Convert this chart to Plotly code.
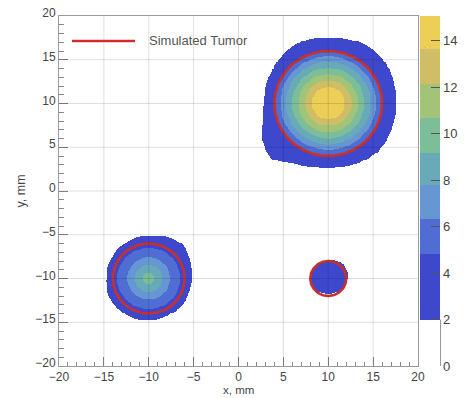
import numpy as np
import plotly.graph_objects as go

# ---------------- data ----------------
# tick values
x_ticks = [-20, -15, -10, -5, 0, 5, 10, 15, 20]
y_ticks = [-20, -15, -10, -5, 0, 5, 10, 15, 20]
cbar_ticks = [0, 2, 4, 6, 8, 10, 12, 14]

# colour levels of the z palette (band boundaries)
level_bounds = [2.0, 4.84, 6.34, 7.78, 9.18, 10.69, 12.13, 13.64, 15.06]
level_colors = ["#3E48CC", "#4F6DD3", "#6697D3", "#69AAB9",
                "#7BBE98", "#A3C478", "#CFBE66", "#EDCF57"]
z_max = 15.06

# reconstructed dose blobs: centre, radial profile (radius mm -> value),
# and outer edge radius (value 2) sampled every 15 degrees
edge_angles = list(range(0, 360, 15))

blob1_c = (10.0, 10.05)
blob1_r = [0.0, 1.9, 2.6, 3.3, 4.0, 4.7, 5.35, 5.95]
blob1_v = [14.6, 13.6, 12.1, 10.7, 9.2, 7.8, 6.3, 4.84]
blob1_edge = [7.55, 7.6, 7.85, 7.86, 7.85, 7.6, 7.43, 7.6, 7.63, 7.45, 7.3, 7.2,
              7.2, 7.5, 8.5, 9.0, 7.9, 7.5, 7.43, 7.44, 7.67, 7.83, 7.75, 7.57]

blob2_c = (-10.0, -10.0)
blob2_r = [0.0, 0.6, 1.5, 2.4, 3.5]
blob2_v = [9.5, 9.2, 7.8, 6.3, 4.84]
blob2_edge = [4.78, 4.9, 5.15, 5.4, 5.25, 5.0, 4.9, 4.85, 4.8, 4.83, 4.76, 4.73,
              4.74, 4.82, 4.9, 4.88, 4.84, 4.8, 4.76, 4.72, 4.72, 4.82, 4.8, 4.76]

blob3_c = (10.0, -10.0)
blob3_r = [0.0, 1.0]
blob3_v = [3.6, 3.1]
blob3_edge = [2.15, 2.25, 2.3, 2.35, 2.25, 2.15, 2.1, 2.05, 2.0, 2.0, 2.0, 2.0,
              2.0, 1.95, 1.9, 1.9, 1.85, 1.8, 1.75, 1.8, 1.85, 1.95, 2.05, 2.1]

# simulated tumours (red circles)
tumor_cx = [10.0, -10.0, 10.0]
tumor_cy = [10.0, -10.0, -10.0]
tumor_r = [6.0, 4.0, 2.0]

legend_label = "Simulated Tumor"
x_title = "x, mm"
y_title = "y, mm"

# ---------------- build the field ----------------
step = 0.1
xs = np.round(np.arange(-20 + step / 2, 20, step), 3)
ys = np.round(np.arange(-20 + step / 2, 20, step), 3)
X, Y = np.meshgrid(xs, ys)


def blob_field(c, pr, pv, edge):
    dx = X - c[0]
    dy = Y - c[1]
    r = np.hypot(dx, dy)
    th = np.degrees(np.arctan2(dy, dx)) % 360
    ang = np.array(edge_angles + [360])
    ed = np.array(edge + [edge[0]])
    redge = np.interp(th, ang, ed)
    inner = np.interp(r, pr, pv)
    outer = pv[-1] + (r - pr[-1]) / (redge - pr[-1]) * (level_bounds[0] - pv[-1])
    return np.where(r <= pr[-1], inner, outer)


Z = np.maximum.reduce([
    blob_field(blob1_c, blob1_r, blob1_v, blob1_edge),
    blob_field(blob2_c, blob2_r, blob2_v, blob2_edge),
    blob_field(blob3_c, blob3_r, blob3_v, blob3_edge),
])
Z = np.round(Z, 2)
Z = np.where(Z < level_bounds[0], np.nan, Z)

# discrete colour scale
cs = [[0.0, "#FFFFFF"], [level_bounds[0] / z_max, "#FFFFFF"]]
for i, col in enumerate(level_colors):
    cs.append([level_bounds[i] / z_max, col])
    cs.append([min(level_bounds[i + 1] / z_max, 1.0), col])

# ---------------- figure ----------------
W, H = 473, 398
ml, mr, mt, mb = 59, 55, 16, 32
pw = W - ml - mr
ph = H - mt - mb
font_fam = "Liberation Sans, Arial, sans-serif"
cb_x = (420.5 - ml) / pw
cb_thick = 20

fig = go.Figure()
fig.add_trace(go.Heatmap(
    x=xs, y=ys, z=Z, zmin=0, zmax=z_max, colorscale=cs, zsmooth=False,
    hoverinfo="skip",
    colorbar=dict(
        x=cb_x, xanchor="left", xpad=0, y=0.5, yanchor="middle", len=1, ypad=0,
        thickness=cb_thick, outlinewidth=0,
        tickvals=cbar_ticks, ticks="inside", ticklen=9, tickcolor="#555",
        tickfont=dict(family=font_fam, size=13, color="#444"),
    ),
))

theta = np.linspace(0, 2 * np.pi, 240)
for cx, cy, rr in zip(tumor_cx, tumor_cy, tumor_r):
    fig.add_trace(go.Scatter(
        x=cx + rr * np.cos(theta), y=cy + rr * np.sin(theta), mode="lines",
        line=dict(color="#C9302C", width=2.6), showlegend=False, hoverinfo="skip",
    ))

shapes = []
for t in x_ticks[1:-1]:
    shapes.append(dict(type="line", xref="x", yref="paper", x0=t, x1=t, y0=0, y1=1,
                       line=dict(color="rgba(0,0,0,0.13)", width=1), layer="above"))
for t in y_ticks[1:-1]:
    shapes.append(dict(type="line", xref="paper", yref="y", x0=0, x1=1, y0=t, y1=t,
                       line=dict(color="rgba(0,0,0,0.13)", width=1), layer="above"))
# colour-bar axis line below the palette
cb_right = cb_x + cb_thick / pw
shapes.append(dict(type="line", xref="paper", yref="paper", x0=cb_right, x1=cb_right,
                   y0=0, y1=level_bounds[0] / z_max, line=dict(color="#999", width=1)))
# legend sample line
leg_y = (H - mb - 41) / ph
shapes.append(dict(type="line", xref="paper", yref="paper",
                   x0=(72 - ml) / pw, x1=(135 - ml) / pw, y0=leg_y, y1=leg_y,
                   line=dict(color="#C9302C", width=2.6)))

axis_common = dict(
    range=[-20, 20], showgrid=False, zeroline=False, showline=True, mirror=True,
    linecolor="#9A9A9A", linewidth=1, ticks="inside", ticklen=9, tickcolor="#888",
    tickfont=dict(family=font_fam, size=12, color="#444"),
    minor=dict(dtick=1, ticks="inside", ticklen=4.5, tickcolor="#888", showgrid=False),
)

fig.update_layout(
    width=W, height=H,
    margin=dict(l=ml, r=mr, t=mt, b=mb, autoexpand=False),
    paper_bgcolor="white", plot_bgcolor="white", showlegend=False,
    font=dict(family=font_fam, size=13, color="#444"),
    xaxis=dict(axis_common, tickvals=x_ticks, ticklabelstandoff=0),
    yaxis=dict(axis_common, tickvals=y_ticks, ticklabelshift=-3,
               title=dict(text=y_title, standoff=6, font=dict(size=12.5, color="#444"))),
    shapes=shapes,
    annotations=[
        dict(text=legend_label, xref="paper", yref="paper",
             x=(147 - ml) / pw, y=leg_y, xanchor="left", yanchor="middle",
             showarrow=False, font=dict(family=font_fam, size=13, color="#555")),
        dict(text=x_title, xref="paper", yref="paper", x=0.5, y=-(H - (H - mb)) / ph,
             xanchor="center", yanchor="bottom", showarrow=False,
             font=dict(family=font_fam, size=11.5, color="#444")),
    ],
)
fig.update_xaxes(automargin=False)
fig.update_yaxes(automargin=False)

fig.write_html("out.html")
